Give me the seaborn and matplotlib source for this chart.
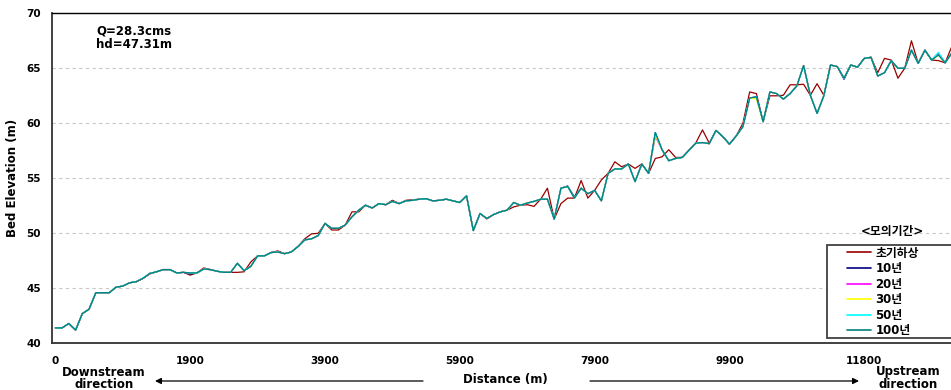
import matplotlib
matplotlib.use("Agg")
import numpy as np
import pandas as pd
import matplotlib.pyplot as plt
import seaborn as sns
from matplotlib.lines import Line2D
from matplotlib.patches import Rectangle

# Simulation periods and their line colours
periods = ["초기하상", "10년", "20년", "30년", "50년", "100년"]
period_colors = ["#990000", "#000080", "#ff00ff", "#ffff00", "#00ffff", "#008080"]

# Bed elevation (m) at each cross-section station, downstream -> upstream
bed_initial = [
    41.4, 41.4, 41.8, 41.2, 42.7, 43.1, 44.6, 44.6, 44.6, 45.1,
    45.2, 45.5, 45.6, 45.9, 46.3, 46.5, 46.7, 46.7, 46.4, 46.45,
    46.2, 46.4, 46.85, 46.7, 46.55, 46.45, 46.45, 46.45, 46.5, 47.4,
    47.95, 47.95, 48.25, 48.4, 48.15, 48.3, 48.8, 49.5, 49.95, 50.0,
    50.9, 50.3, 50.3, 50.75, 51.95, 51.95, 52.55, 52.3, 52.7, 52.6,
    53.0, 52.7, 53.0, 53.05, 53.1, 53.15, 52.95, 53.0, 53.1, 52.95,
    52.8, 53.4, 50.25, 51.8, 51.3, 51.7, 51.95, 52.1, 52.4, 52.55,
    52.6, 52.45, 53.1, 54.1, 51.3, 52.7, 53.2, 53.2, 54.8, 53.2,
    53.9, 54.85, 55.45, 56.5, 56.05, 56.3, 55.9, 56.3, 55.45, 56.8,
    56.95, 57.6, 56.9, 56.9, 57.55, 58.2, 59.4, 58.2, 59.35, 58.8,
    58.1, 58.85, 60.0, 62.85, 62.7, 60.15, 62.5, 62.5, 62.55, 63.5,
    63.5, 63.55, 62.55, 63.6, 62.55, 65.3, 65.15, 64.1, 65.3, 65.1,
    65.9, 66.0, 64.6, 65.9, 65.75, 64.1, 65.0, 67.5, 65.45, 66.65,
    65.75, 65.7, 65.5, 67.0,
]
bed_10yr = [
    41.4, 41.4, 41.8, 41.2, 42.7, 43.1, 44.6, 44.6, 44.6, 45.1,
    45.2, 45.5, 45.6, 45.9, 46.35, 46.5, 46.7, 46.7, 46.4, 46.45,
    46.3, 46.4, 46.75, 46.7, 46.55, 46.45, 46.45, 47.27, 46.6, 47.0,
    47.95, 47.95, 48.25, 48.3, 48.15, 48.3, 48.8, 49.4, 49.5, 49.8,
    50.9, 50.45, 50.45, 50.75, 51.5, 52.1, 52.55, 52.3, 52.7, 52.6,
    52.9, 52.7, 52.95, 53.0, 53.1, 53.15, 52.95, 53.0, 53.1, 52.95,
    52.8, 53.4, 50.25, 51.8, 51.35, 51.7, 51.95, 52.1, 52.8, 52.55,
    52.75, 52.9, 53.1, 53.1, 51.3, 54.1, 54.3, 53.3, 54.1, 53.6,
    53.9, 52.95, 55.45, 55.85, 55.85, 56.3, 54.7, 56.3, 55.45, 59.15,
    57.6, 56.6, 56.8, 56.9, 57.55, 58.2, 58.25, 58.15, 59.35, 58.8,
    58.1, 58.85, 59.7, 62.3, 62.4, 60.15, 62.85, 62.7, 62.2, 62.7,
    63.4, 65.25, 62.55, 60.9, 62.5, 65.3, 65.15, 64.0, 65.3, 65.1,
    65.9, 66.0, 64.3, 64.6, 65.7, 65.0, 65.0, 66.65, 65.45, 66.65,
    65.75, 66.3, 65.5, 66.4,
]
bed_20yr = [
    41.4, 41.4, 41.8, 41.2, 42.7, 43.1, 44.6, 44.6, 44.6, 45.1,
    45.2, 45.5, 45.6, 45.9, 46.35, 46.5, 46.7, 46.7, 46.4, 46.45,
    46.4, 46.4, 46.75, 46.7, 46.55, 46.45, 46.45, 47.27, 46.6, 47.0,
    47.95, 47.95, 48.25, 48.3, 48.15, 48.3, 48.8, 49.4, 49.5, 49.8,
    50.9, 50.45, 50.45, 50.75, 51.5, 52.1, 52.55, 52.3, 52.7, 52.6,
    52.9, 52.7, 52.95, 53.0, 53.1, 53.15, 52.95, 53.0, 53.1, 52.95,
    52.8, 53.4, 50.25, 51.8, 51.35, 51.7, 51.95, 52.1, 52.8, 52.55,
    52.75, 52.9, 53.1, 53.1, 51.3, 54.1, 54.25, 53.2, 54.1, 53.6,
    53.9, 52.95, 55.45, 55.85, 55.85, 56.3, 54.7, 56.3, 55.45, 58.8,
    57.6, 56.6, 56.8, 56.9, 57.55, 58.2, 58.25, 58.15, 59.35, 58.8,
    58.1, 58.85, 59.7, 62.3, 62.4, 60.15, 62.85, 62.7, 62.2, 62.7,
    63.4, 65.25, 62.55, 60.9, 62.5, 65.3, 65.15, 64.1, 65.3, 65.1,
    65.9, 66.0, 64.3, 64.6, 65.7, 65.0, 65.0, 66.65, 65.45, 66.65,
    65.75, 66.4, 65.5, 66.4,
]
bed_30yr = [
    41.4, 41.4, 41.8, 41.2, 42.7, 43.1, 44.6, 44.6, 44.6, 45.1,
    45.2, 45.5, 45.6, 45.9, 46.35, 46.5, 46.7, 46.7, 46.4, 46.45,
    46.4, 46.4, 46.75, 46.7, 46.55, 46.45, 46.45, 47.27, 46.6, 47.0,
    47.95, 47.95, 48.25, 48.3, 48.15, 48.3, 48.8, 49.4, 49.5, 49.8,
    50.9, 50.45, 50.45, 50.75, 51.5, 52.1, 52.55, 52.3, 52.7, 52.6,
    52.9, 52.7, 52.95, 53.0, 53.1, 53.15, 52.95, 53.0, 53.1, 52.95,
    52.8, 53.4, 50.25, 51.8, 51.35, 51.7, 51.95, 52.1, 52.8, 52.55,
    52.75, 52.9, 53.1, 53.1, 51.3, 54.1, 54.25, 53.2, 54.1, 53.6,
    53.9, 52.95, 55.45, 55.85, 55.85, 56.3, 54.7, 56.3, 55.45, 58.9,
    57.6, 56.6, 56.8, 56.9, 57.55, 58.2, 58.25, 58.15, 59.35, 58.8,
    58.1, 58.85, 59.7, 62.3, 62.2, 60.15, 62.85, 62.7, 62.2, 62.7,
    63.4, 65.25, 62.55, 60.9, 62.5, 65.3, 65.15, 64.1, 65.3, 65.1,
    65.9, 66.0, 64.3, 64.6, 65.7, 65.0, 65.0, 66.65, 65.45, 66.65,
    65.75, 66.2, 65.5, 66.4,
]
bed_50yr = [
    41.4, 41.4, 41.8, 41.2, 42.7, 43.1, 44.6, 44.6, 44.6, 45.1,
    45.2, 45.5, 45.6, 45.95, 46.35, 46.5, 46.7, 46.7, 46.4, 46.45,
    46.4, 46.4, 46.75, 46.7, 46.55, 46.45, 46.45, 47.27, 46.6, 47.0,
    47.95, 47.95, 48.25, 48.3, 48.15, 48.3, 48.8, 49.4, 49.5, 49.8,
    50.9, 50.45, 50.45, 50.75, 51.5, 52.1, 52.55, 52.3, 52.7, 52.6,
    52.9, 52.7, 52.95, 53.0, 53.1, 53.15, 52.95, 53.0, 53.1, 52.95,
    52.8, 53.4, 50.25, 51.8, 51.35, 51.7, 51.95, 52.1, 52.8, 52.55,
    52.75, 52.9, 53.1, 53.1, 51.3, 54.1, 54.25, 53.2, 54.1, 53.6,
    53.9, 52.95, 55.45, 55.85, 55.85, 56.3, 54.7, 56.3, 55.45, 59.15,
    57.6, 56.6, 56.8, 56.9, 57.55, 58.2, 58.25, 58.15, 59.35, 58.8,
    58.1, 58.85, 59.7, 62.3, 62.4, 60.15, 62.85, 62.7, 62.2, 62.7,
    63.4, 65.2, 62.55, 60.9, 62.5, 65.3, 65.15, 64.1, 65.3, 65.1,
    65.9, 66.0, 64.3, 64.6, 65.7, 65.0, 65.0, 66.65, 65.45, 66.65,
    65.75, 66.45, 65.5, 66.4,
]
bed_100yr = [
    41.4, 41.4, 41.8, 41.2, 42.7, 43.1, 44.6, 44.6, 44.6, 45.1,
    45.2, 45.5, 45.6, 45.9, 46.35, 46.5, 46.7, 46.7, 46.4, 46.45,
    46.4, 46.4, 46.75, 46.7, 46.55, 46.45, 46.45, 47.27, 46.6, 47.0,
    47.95, 47.95, 48.25, 48.3, 48.15, 48.3, 48.8, 49.4, 49.5, 49.8,
    50.9, 50.45, 50.45, 50.75, 51.5, 52.1, 52.55, 52.3, 52.7, 52.6,
    52.9, 52.7, 52.95, 53.0, 53.1, 53.15, 52.95, 53.0, 53.1, 52.95,
    52.8, 53.4, 50.25, 51.8, 51.35, 51.7, 51.95, 52.1, 52.8, 52.55,
    52.75, 52.9, 53.1, 53.1, 51.3, 54.1, 54.25, 53.2, 54.1, 53.6,
    53.9, 52.95, 55.45, 55.85, 55.85, 56.3, 54.7, 56.3, 55.45, 59.15,
    57.6, 56.6, 56.8, 56.9, 57.55, 58.2, 58.25, 58.15, 59.35, 58.8,
    58.1, 58.85, 59.7, 62.3, 62.4, 60.15, 62.85, 62.7, 62.2, 62.7,
    63.4, 65.25, 62.55, 60.9, 62.5, 65.3, 65.15, 64.1, 65.3, 65.1,
    65.9, 66.0, 64.3, 64.6, 65.7, 65.0, 65.0, 66.65, 65.45, 66.65,
    65.75, 66.2, 65.5, 66.4,
]

# Distance labels and the station index each one sits under
distance_labels = ["0", "1900", "3900", "5900", "7900", "9900", "11800"]
label_stations = [0, 20, 40, 60, 80, 100, 120]
y_ticks = [40, 45, 50, 55, 60, 65, 70]

series = [bed_initial, bed_10yr, bed_20yr, bed_30yr, bed_50yr, bed_100yr]
frames = []
for name, vals in zip(periods, series):
    frames.append(pd.DataFrame({"station": np.arange(len(vals)),
                                "elev": vals, "period": name}))
df = pd.concat(frames, ignore_index=True)

sns.set_style("white")
plt.rcParams["font.family"] = ["DejaVu Sans", "Noto Sans CJK KR"]
plt.rcParams["font.weight"] = "bold"
plt.rcParams["text.color"] = "black"
plt.rcParams["xtick.color"] = "black"
plt.rcParams["ytick.color"] = "black"
plt.rcParams["xtick.labelcolor"] = "black"
plt.rcParams["ytick.labelcolor"] = "black"

W, H = 951, 390
fig = plt.figure(figsize=(W / 100, H / 100), dpi=100)


def fx(px):
    return px / W


def fy(py):
    return 1 - py / H


ax = fig.add_axes([fx(52), fy(343.3), (962 - 52) / W, (343.3 - 13.3) / H])

sns.lineplot(data=df, x="station", y="elev", hue="period", hue_order=periods,
             palette=period_colors, linewidth=0.9, legend=False, sort=False,
             estimator=None, ax=ax)

ax.set_xlim(-0.5, 134.5)
ax.set_ylim(40, 70)
ax.set_xlabel("")
ax.set_ylabel("")

ax.set_yticks(y_ticks)
ax.set_yticklabels([str(t) for t in y_ticks], fontsize=7.5, fontweight="bold")
ax.set_xticks(label_stations)
ax.set_xticklabels(distance_labels, fontsize=7.5, fontweight="bold")
ax.set_xticks(np.arange(-0.5, 135, 5), minor=True)
ax.tick_params(axis="y", which="both", length=0, pad=8)
ax.tick_params(axis="x", which="major", length=0, pad=9.5)
ax.tick_params(axis="x", which="minor", direction="in", length=2.5,
               width=1, color="#333333")

ax.grid(axis="y", color="#c8c8c8", linestyle=(0, (3, 3)), linewidth=0.8)
ax.grid(axis="x", visible=False)
ax.set_axisbelow(True)

for side in ["left", "bottom"]:
    ax.spines[side].set_color("#333333")
    ax.spines[side].set_linewidth(1.3)
ax.spines["top"].set_color("black")
ax.spines["top"].set_linewidth(1.0)
ax.spines["right"].set_visible(False)

# Annotations
fig.text(fx(13), fy(178), "Bed Elevation (m)", rotation=90, ha="center",
         va="center", fontsize=8.5, fontweight="bold")
fig.text(fx(96), fy(31), "Q=28.3cms", ha="left", va="center",
         fontsize=8.5, fontweight="bold")
fig.text(fx(96), fy(44.5), "hd=47.31m", ha="left", va="center",
         fontsize=8.5, fontweight="bold")

fig.text(fx(505), fy(380), "Distance (m)", ha="center", va="center",
         fontsize=8.5, fontweight="bold")
fig.text(fx(104), fy(378.5), "Downstream\ndirection", ha="center",
         va="center", fontsize=8.5, fontweight="bold", linespacing=1.0)
fig.text(fx(908), fy(378.5), "Upstream\ndirection", ha="center",
         va="center", fontsize=8.5, fontweight="bold", linespacing=1.0)

arrow_kw = dict(arrowstyle="-|>", color="black", lw=0.9, mutation_scale=9,
                shrinkA=0, shrinkB=0)
ax.annotate("", xy=(fx(155), fy(381)), xytext=(fx(423), fy(381)),
            xycoords="figure fraction", textcoords="figure fraction",
            arrowprops=arrow_kw, annotation_clip=False)
ax.annotate("", xy=(fx(859), fy(381)), xytext=(fx(590), fy(381)),
            xycoords="figure fraction", textcoords="figure fraction",
            arrowprops=arrow_kw, annotation_clip=False)

# Legend: frame box, title above, entries inside
box = Rectangle((fx(826.7), fy(337.7)), fx(975) - fx(826.7),
                fy(245) - fy(337.7), transform=fig.transFigure,
                facecolor="white", edgecolor="#404040", linewidth=1.3,
                zorder=5, clip_on=False)
fig.patches.append(box)
fig.text(fx(892), fy(232), "<모의기간>", ha="center", va="center",
         fontsize=8.5, fontweight="bold", zorder=6)

handles = [Line2D([0], [0], color=c, lw=1.2) for c in period_colors]
leg = fig.legend(handles, periods, loc="upper left",
                 bbox_to_anchor=(fx(847), fy(246.5)),
                 bbox_transform=fig.transFigure, frameon=False,
                 borderpad=0, borderaxespad=0, handlelength=2.0,
                 handletextpad=0.4, labelspacing=0.22,
                 prop={"size": 8.5, "weight": "bold"})
leg.set_zorder(7)

fig.savefig("out.png", dpi=100)
